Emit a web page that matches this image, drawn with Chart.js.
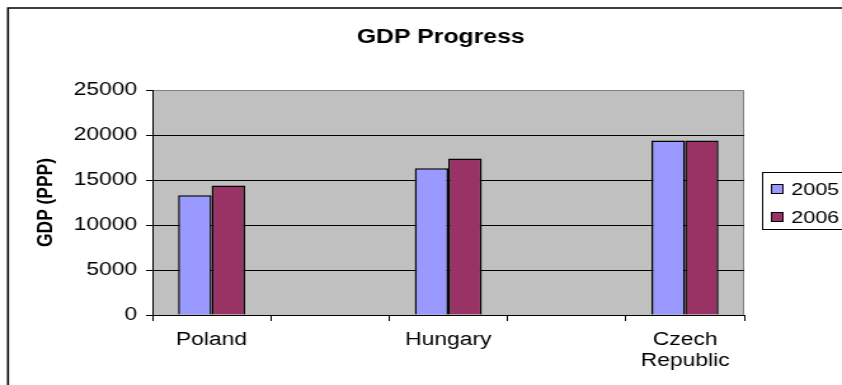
<!DOCTYPE html>
<html>
<head>
<meta charset="utf-8">
<script src="https://cdn.jsdelivr.net/npm/chart.js@4"></script>
<style>
  html, body { margin: 0; padding: 0; background: #fff; overflow: hidden; }
  /* the chart is laid out narrow and widened to the page, which gives the wide lettering */
  #wrap { width: 663px; height: 385px; transform: scale(1.26998, 1); transform-origin: 0 0; }
</style>
</head>
<body>
<div id="wrap"><canvas id="gdpChart" width="663" height="385"></canvas></div>
<script>
// Categories include two blank slots so the countries sit apart on the axis
const countries = ['Poland', '', 'Hungary', '', ['Czech', 'Republic']];
const years = ['2005', '2006'];
const gdp2005 = [13300, null, 16300, null, 19400];
const gdp2006 = [14400, null, 17400, null, 19400];
const yTicks = [0, 5000, 10000, 15000, 20000, 25000];

const FONT = 'Arial, "Liberation Sans", sans-serif';

// Gray plot background, outer frame, title and boxed legend
const framePlugin = {
  id: 'frame',
  beforeDraw(chart) {
    const { ctx, chartArea: a } = chart;
    ctx.save();
    ctx.fillStyle = '#fff';
    ctx.fillRect(0, 0, chart.width, chart.height);
    ctx.fillStyle = '#c0c0c0';
    ctx.fillRect(a.left, a.top, a.right - a.left, a.bottom - a.top);
    ctx.strokeStyle = '#808080';
    ctx.lineWidth = 1;
    ctx.beginPath();
    ctx.moveTo(a.left, a.top + 0.5);
    ctx.lineTo(a.right - 0.5, a.top + 0.5);
    ctx.lineTo(a.right - 0.5, a.bottom);
    ctx.stroke();
    ctx.restore();
  },
  afterDraw(chart) {
    const { ctx } = chart;
    ctx.save();
    // outer frame (runs off the right and bottom edges)
    ctx.strokeStyle = '#000';
    ctx.lineWidth = 1.6;
    ctx.beginPath();
    ctx.moveTo(6.3, chart.height + 2);
    ctx.lineTo(6.3, 8);
    ctx.lineTo(chart.width + 2, 8);
    ctx.stroke();

    // title
    ctx.fillStyle = '#000';
    ctx.font = 'bold 19.5px ' + FONT;
    ctx.textAlign = 'center';
    ctx.textBaseline = 'middle';
    ctx.fillText('GDP Progress', 347, 38);

    // legend
    const lx = 600, ly = 172, lw = 80, lh = 57;
    ctx.lineWidth = 1;
    ctx.fillStyle = '#fff';
    ctx.fillRect(lx, ly, lw, lh);
    ctx.strokeRect(lx + 0.5, ly + 0.5, lw, lh);
    ctx.font = '17px ' + FONT;
    ctx.textAlign = 'left';
    chart.data.datasets.forEach((ds, i) => {
      const cy = ly + 17 + i * 28;
      ctx.fillStyle = ds.backgroundColor;
      ctx.fillRect(lx + 7.5, cy - 4.5, 9, 9);
      ctx.strokeStyle = '#000';
      ctx.strokeRect(lx + 7.5, cy - 4.5, 9, 9);
      ctx.fillStyle = '#000';
      ctx.fillText(ds.label, lx + 23, cy + 1);
    });
    ctx.restore();
  }
};

new Chart(document.getElementById('gdpChart').getContext('2d'), {
  type: 'bar',
  data: {
    labels: countries,
    datasets: [
      { label: years[0], data: gdp2005, backgroundColor: '#9999ff', borderColor: '#000', borderWidth: 1.5 },
      { label: years[1], data: gdp2006, backgroundColor: '#993366', borderColor: '#000', borderWidth: 1.5 },
    ],
  },
  options: {
    responsive: false,
    animation: false,
    devicePixelRatio: 1,
    categoryPercentage: 0.566,
    barPercentage: 1,
    layout: { padding: { top: 90, right: 77, bottom: 0, left: 0 } },
    plugins: {
      legend: { display: false },
      title: { display: false },
      tooltip: { enabled: false },
    },
    scales: {
      x: {
        offset: true,
        grid: {
          offset: true,
          drawOnChartArea: false,
          drawTicks: true,
          tickLength: 6,
          tickColor: '#000',
          color: '#000',
        },
        border: { color: '#000', width: 1 },
        ticks: { color: '#000', font: { family: FONT, size: 18 }, padding: 8, maxRotation: 0, autoSkip: false },
        afterFit(scale) { scale.height = 70; },
      },
      y: {
        min: 0,
        max: 25000,
        afterBuildTicks(scale) { scale.ticks = yTicks.map(v => ({ value: v })); },
        grid: {
          color: ctx => (ctx.tick && ctx.tick.value === 25000 ? 'rgba(0,0,0,0)' : '#000'),
          tickColor: '#000',
          tickLength: 5,
        },
        border: { color: '#000', width: 1 },
        ticks: {
          color: '#000',
          font: { family: FONT, size: 18 },
          padding: 7,
          callback: v => String(v),
        },
        title: {
          display: true,
          text: 'GDP (PPP)',
          color: '#000',
          font: { family: FONT, size: 17.4, weight: 'bold' },
          padding: { top: 26, bottom: 0 },
        },
        afterFit(scale) { scale.width = 120; },
      },
    },
  },
  plugins: [framePlugin],
});
</script>
</body>
</html>
